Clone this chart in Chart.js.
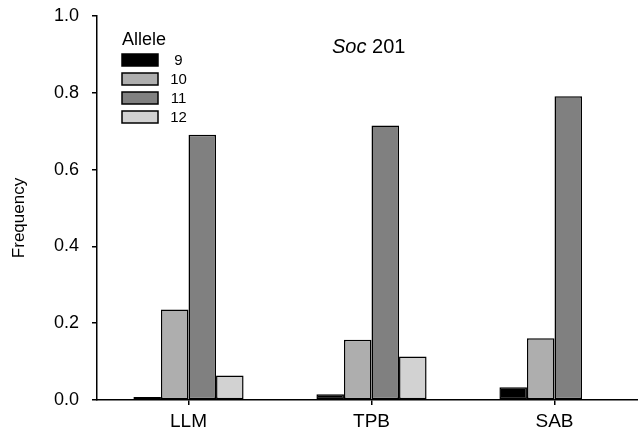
<!DOCTYPE html>
<html>
<head>
<meta charset="utf-8">
<script src="https://cdn.jsdelivr.net/npm/chart.js@4"></script>
<style>
  html, body { margin: 0; padding: 0; background: #fff; overflow: hidden; }
  #wrap { width: 646px; height: 437px; }
</style>
</head>
<body>
<div id="wrap"><canvas id="chart" width="646" height="437"></canvas></div>
<script>
const sites = ['LLM', 'TPB', 'SAB'];
const alleles = ['9', '10', '11', '12'];
const allele9 = [0.008, 0.015, 0.033];
const allele10 = [0.236, 0.157, 0.161];
const allele11 = [0.691, 0.715, 0.791];
const allele12 = [0.064, 0.113, 0];
const yTicks = [0, 0.2, 0.4, 0.6, 0.8, 1.0];
const fills = ['#000000', '#aeaeae', '#808080', '#d2d2d2'];

const FONT = '"Liberation Sans", Arial, sans-serif';

// legend box, title and y label drawn on top of the chart
const plotDecor = {
  id: 'plotDecor',
  afterDraw(chart) {
    const c = chart.ctx;
    c.save();
    c.fillStyle = '#000';
    c.textBaseline = 'middle';
    c.font = '18px ' + FONT;
    c.fillText('Allele', 122, 40);
    chart.data.datasets.forEach((ds, i) => {
      const y = 54 + i * 19;
      c.fillStyle = ds.backgroundColor;
      c.fillRect(122, y, 36, 12);
      c.strokeStyle = '#000';
      c.lineWidth = 1.5;
      c.strokeRect(122, y, 36, 12);
      c.fillStyle = '#000';
      c.font = '15px ' + FONT;
      c.textAlign = 'center';
      c.fillText(ds.label, 178.5, y + 6.5);
      c.textAlign = 'left';
    });
    // title with italic locus name
    c.font = 'italic 20px ' + FONT;
    const w1 = c.measureText('Soc').width;
    c.fillText('Soc', 332, 47);
    c.font = '20px ' + FONT;
    c.fillText(' 201', 332 + w1, 47);
    // y axis label
    c.translate(19, 218);
    c.rotate(-Math.PI / 2);
    c.textAlign = 'center';
    c.font = '17px ' + FONT;
    c.fillText('Frequency', 0, 0);
    c.restore();
  }
};

const series = [allele9, allele10, allele11, allele12];

new Chart(document.getElementById('chart'), {
  type: 'bar',
  data: {
    labels: sites,
    datasets: alleles.map((a, i) => ({
      label: a,
      data: series[i],
      backgroundColor: fills[i],
      borderColor: '#000',
      borderWidth: 1.5,
      borderSkipped: false,
      categoryPercentage: 0.602,
      barPercentage: 1.0
    }))
  },
  options: {
    responsive: false,
    animation: false,
    layout: { padding: { top: 16, right: 0, left: 0, bottom: 0 } },
    plugins: { legend: { display: false }, tooltip: { enabled: false } },
    scales: {
      x: {
        grid: { display: true, drawOnChartArea: false, offset: false, color: '#000', tickLength: 5, lineWidth: 1.5 },
        border: { color: '#000', width: 1.5 },
        ticks: { color: '#000', font: { family: FONT, size: 19 }, padding: 5 },
        afterFit(s) { s.height = 37; s.paddingLeft = 0; s.paddingRight = 0; }
      },
      y: {
        min: 0,
        max: 1,
        afterBuildTicks(s) { s.ticks = yTicks.map(v => ({ value: v })); },
        grid: { drawOnChartArea: false, color: '#000', tickLength: 5, lineWidth: 1.5 },
        border: { color: '#000', width: 1.5 },
        ticks: { color: '#000', font: { family: FONT, size: 18 }, padding: 13, callback: v => v.toFixed(1) },
        afterFit(s) { s.width = 97; s.paddingTop = 0; s.paddingBottom = 0; }
      }
    }
  },
  plugins: [plotDecor]
});
</script>
</body>
</html>
